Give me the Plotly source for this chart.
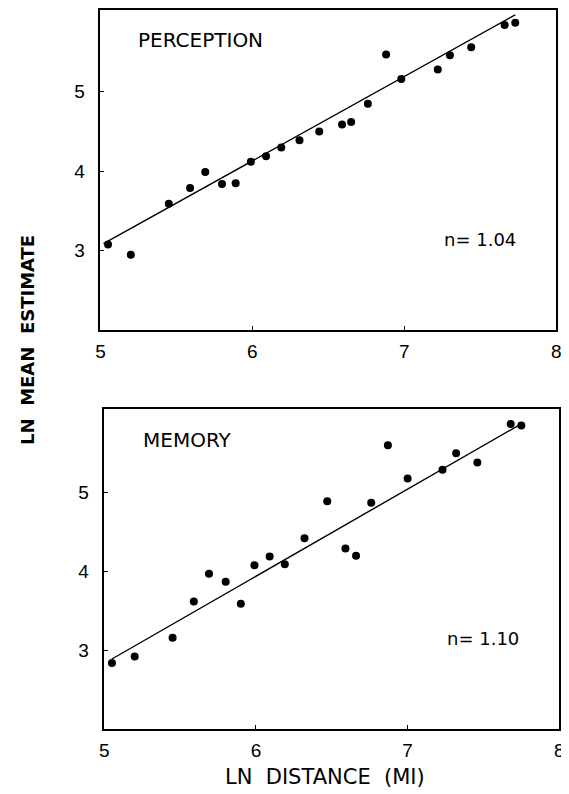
import plotly.graph_objects as go

# Perception panel data (ln distance, ln mean estimate)
perc_x = [5.05, 5.20, 5.45, 5.59, 5.69, 5.80, 5.89, 5.99, 6.09, 6.19, 6.31,
          6.44, 6.59, 6.65, 6.76, 6.88, 6.98, 7.22, 7.30, 7.44, 7.66, 7.73]
perc_y = [3.08, 2.95, 3.59, 3.79, 3.99, 3.84, 3.85, 4.12, 4.19, 4.30, 4.39,
          4.50, 4.59, 4.62, 4.85, 5.47, 5.16, 5.28, 5.46, 5.56, 5.84, 5.87]
perc_fit_x = [5.02, 7.73]
perc_fit_y = [3.09, 5.97]

# Memory panel data
mem_x = [5.05, 5.20, 5.45, 5.59, 5.69, 5.80, 5.90, 5.99, 6.09, 6.19, 6.32,
         6.47, 6.59, 6.66, 6.76, 6.87, 7.00, 7.23, 7.32, 7.46, 7.68, 7.75]
mem_y = [2.84, 2.92, 3.16, 3.62, 3.97, 3.87, 3.59, 4.08, 4.19, 4.09, 4.42,
         4.89, 4.29, 4.20, 4.87, 5.60, 5.18, 5.29, 5.50, 5.38, 5.87, 5.85]
mem_fit_x = [5.05, 7.73]
mem_fit_y = [2.89, 5.85]

x_ticks = [5, 6, 7, 8]
y_ticks = [3, 4, 5]

# page body has an 8px margin; work in page pixels and convert
OFF = 8
W, H = 569, 794 - OFF


def fx(px):
    return (px - OFF) / W


def fy(py):
    return 1 - (py - OFF) / H


fig = go.Figure()

marker = dict(color="black", size=8)
line = dict(color="black", width=1.4)

fig.add_trace(go.Scatter(x=perc_x, y=perc_y, mode="markers", marker=marker,
                         xaxis="x", yaxis="y", showlegend=False))
fig.add_trace(go.Scatter(x=perc_fit_x, y=perc_fit_y, mode="lines", line=line,
                         xaxis="x", yaxis="y", showlegend=False))
fig.add_trace(go.Scatter(x=mem_x, y=mem_y, mode="markers", marker=marker,
                         xaxis="x2", yaxis="y2", showlegend=False))
fig.add_trace(go.Scatter(x=mem_fit_x, y=mem_fit_y, mode="lines", line=line,
                         xaxis="x2", yaxis="y2", showlegend=False))

tickfont = dict(family="Liberation Sans, Arial, sans-serif", size=19, color="black")


def xaxis(domain, anchor):
    return dict(domain=domain, anchor=anchor, range=[5, 8], tickvals=x_ticks,
                ticktext=[str(v) for v in x_ticks], ticks="inside", ticklen=4,
                tickcolor="black", showline=True, linecolor="black", linewidth=1.6,
                mirror=True, showgrid=False, zeroline=False, tickfont=tickfont,
                ticklabelstandoff=3)


def yaxis(domain, anchor, rng):
    return dict(domain=domain, anchor=anchor, range=rng, tickvals=y_ticks,
                ticktext=[str(v) for v in y_ticks], ticks="inside", ticklen=4,
                tickcolor="black", showline=True, linecolor="black", linewidth=1.6,
                mirror=True, showgrid=False, zeroline=False, tickfont=tickfont,
                ticklabelstandoff=10)


fig.update_layout(
    width=W, height=H,
    margin=dict(l=0, r=0, t=0, b=0),
    paper_bgcolor="white", plot_bgcolor="white",
    xaxis=xaxis([fx(97), fx(561)], "y"),
    yaxis=yaxis([fy(329), fy(8)], "x", [2, 6.03]),
    xaxis2=xaxis([fx(101), fx(564)], "y2"),
    yaxis2=yaxis([fy(729), fy(408)], "x2", [2, 6.06]),
)

labfont = dict(family="DejaVu Sans, sans-serif", size=20, color="black")
nfont = dict(family="DejaVu Sans, sans-serif", size=18, color="black")

annots = [
    dict(text="PERCEPTION", x=fx(133), y=fy(38), xanchor="left", yanchor="middle", font=labfont),
    dict(text="MEMORY", x=fx(138), y=fy(439), xanchor="left", yanchor="middle", font=labfont),
    dict(text="n= 1.04", x=fx(445), y=fy(238), xanchor="left", yanchor="middle", font=nfont),
    dict(text="n= 1.10", x=fx(448), y=fy(638), xanchor="left", yanchor="middle", font=nfont),
    dict(text="LN  DISTANCE  (MI)", x=fx(326), y=fy(777), xanchor="center",
         yanchor="middle", font=dict(family="DejaVu Sans, sans-serif", size=21, color="black")),
    dict(text="LN  MEAN  ESTIMATE", x=fx(22), y=fy(339), xanchor="center",
         yanchor="middle", textangle=-90,
         font=dict(family="DejaVu Sans, sans-serif", size=18, color="black", weight="bold")),
]
for a in annots:
    a.update(xref="paper", yref="paper", showarrow=False)
fig.update_layout(annotations=annots)

fig.write_html("out.html")
